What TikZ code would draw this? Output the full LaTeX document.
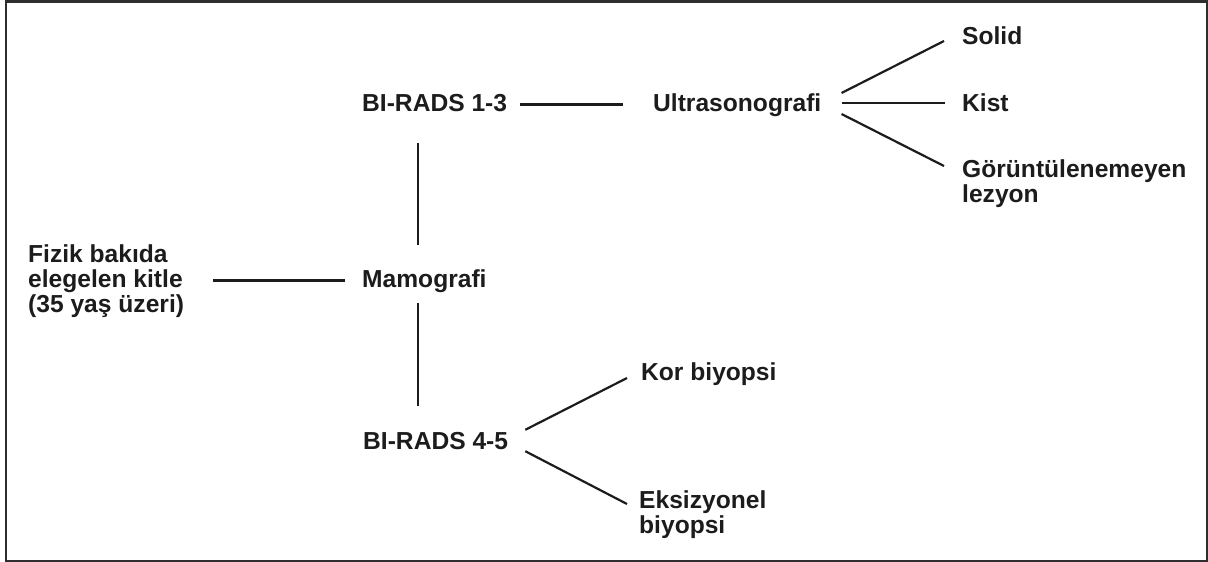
\documentclass[tikz,border=0pt]{standalone}
\usepackage{fontspec}
\setmainfont{Liberation Sans}
\definecolor{ink}{HTML}{1C1C1C}
\definecolor{framegray}{HTML}{2E2E2E}
\begin{document}
\begin{tikzpicture}[x=1pt,y=-1pt,
  lbl/.style={inner sep=0pt, anchor=base west, text=ink,
    font=\bfseries\fontsize{24.6}{25}\selectfont},
  one/.style={lbl, text height=18pt, text depth=5pt},
  multi/.style={lbl, align=left},
  link/.style={draw=ink, line width=2.2pt}]
\useasboundingbox (0,0) rectangle (1208,562);
\draw[framegray, line width=2.4pt] (6.2,1.3) rectangle (1206.8,560.8);

% labels (multi-line nodes are placed by the baseline of their last line)
\node[multi] (fizik) at (28,312) {Fizik bakıda\\elegelen kitle\\(35 yaş üzeri)};
\node[one] (mamo) at (362,287) {Mamografi};
\node[one] (b13) at (362,111) {BI-RADS 1-3};
\node[one] (b45) at (363,449) {BI-RADS 4-5};
\node[one] (us) at (653,111) {Ultrasonografi};
\node[one] (solid) at (962,44) {Solid};
\node[one] (kist) at (962,111) {Kist};
\node[multi] (gor) at (962,202) {Görüntülenemeyen\\lezyon};
\node[one] (kor) at (641,380) {Kor biyopsi};
\node[multi] (eks) at (639,533) {Eksizyonel\\biyopsi};

% connectors
\draw[link, shorten <=29pt, shorten >=17pt] (fizik.east |- mamo.west) -- (mamo.west);
\draw[link, shorten <=13pt, shorten >=30pt] (b13.east) -- (us.west);
\draw[link, shorten <=27pt, shorten >=24pt] ([xshift=56pt]b13.south west) -- ([xshift=56pt]mamo.north west);
\draw[link, shorten <=11pt, shorten >=25pt] ([xshift=56pt]mamo.south west) -- ([xshift=55pt]b45.north west);
\draw[link] ([xshift=17pt,yshift=1pt]b45.north east) -- ([xshift=-14pt,yshift=-4.5pt]kor.west);
\draw[link] ([xshift=17pt,yshift=3pt]b45.south east) -- ([xshift=-12pt,yshift=29pt]eks.base west);
\draw[link] ([xshift=20pt,yshift=11.5pt]us.east) -- ([xshift=-18pt,yshift=-3.5pt]solid.west);
\draw[link] ([xshift=20pt,yshift=1.5pt]us.east) -- ([xshift=-17pt,yshift=1.5pt]kist.west);
\draw[link] ([xshift=20pt,yshift=-9.5pt]us.east) -- ([xshift=-18pt,yshift=36pt]gor.base west);
\end{tikzpicture}
\end{document}
